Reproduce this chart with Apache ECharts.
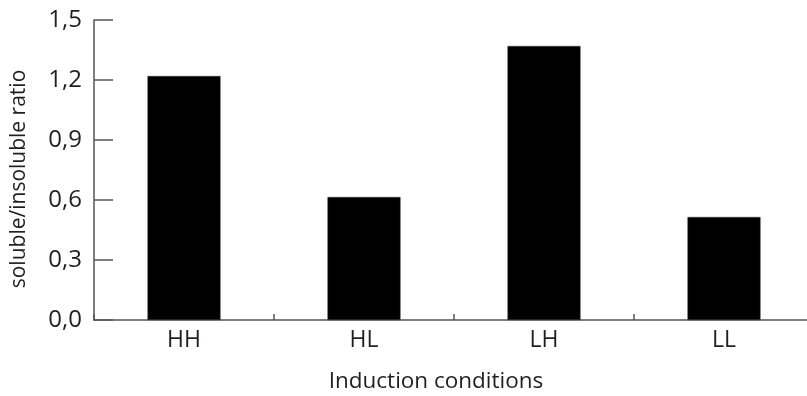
<!DOCTYPE html>
<html>
<head>
<meta charset="utf-8">
<script src="https://cdn.jsdelivr.net/npm/echarts@6/dist/echarts.min.js"></script>
<style>html,body{margin:0;padding:0;background:#fff}#c{width:807px;height:396px}</style>
</head>
<body>
<div id="c"></div>
<script>
const categories = ['HH', 'HL', 'LH', 'LL'];
const ratioValues = [1.22, 0.615, 1.37, 0.515];
const yTicks = [0, 0.3, 0.6, 0.9, 1.2, 1.5];

const FONT = 'Open Sans';
const TEXT = '#231f20';
const AXIS = '#555555';
const chart = echarts.init(document.getElementById('c'), null, {renderer: 'canvas'});
chart.setOption({
  animation: false,
  grid: {left: 94, top: 20, width: 720, height: 300, outerBoundsMode: 'none', containLabel: false},
  xAxis: {
    type: 'category',
    data: categories,
    name: 'Induction conditions',
    nameLocation: 'middle',
    nameGap: 50,
    nameTextStyle: {fontFamily: FONT, fontSize: 22.5, color: TEXT, padding: [0, 36, 0, 0]},
    axisLine: {lineStyle: {color: AXIS, width: 1.5}},
    axisTick: {show: true, inside: true, length: 6, alignWithLabel: false, lineStyle: {color: AXIS, width: 1.5}},
    axisLabel: {fontFamily: FONT, fontSize: 23, color: TEXT, margin: 9}
  },
  yAxis: {
    type: 'value',
    min: 0, max: 1.5, interval: 0.3,
    name: 'soluble/insoluble ratio',
    nameLocation: 'middle',
    nameGap: 64,
    nameRotate: 90,
    nameTextStyle: {fontFamily: FONT, fontSize: 21, color: TEXT, padding: [0, 18, 0, 0]},
    axisLine: {show: true, lineStyle: {color: AXIS, width: 1.5}},
    axisTick: {show: true, inside: true, length: 19, lineStyle: {color: AXIS, width: 1.5}},
    splitLine: {show: false},
    axisLabel: {
      fontFamily: FONT, fontSize: 24, color: TEXT, margin: 12,
      formatter: v => yTicks.find(t => Math.abs(t - v) < 1e-9).toFixed(1).replace('.', ',')
    }
  },
  series: [{
    type: 'bar',
    data: ratioValues,
    barWidth: 73,
    itemStyle: {color: '#000000', borderColor: '#333', borderWidth: 0.5}
  }]
});
</script>
</body>
</html>
